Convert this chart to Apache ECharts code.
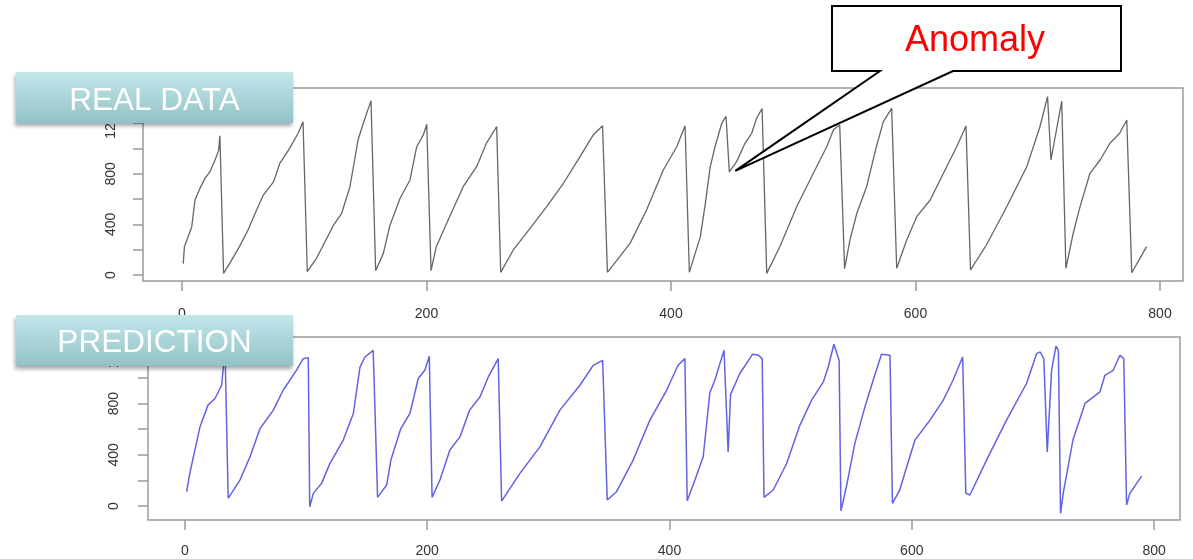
<!DOCTYPE html>
<html><head><meta charset="utf-8">
<script src="https://cdn.jsdelivr.net/npm/echarts@6/dist/echarts.min.js"></script>
<style>html,body{margin:0;padding:0;background:#fff}#c{width:1193px;height:559px}</style>
</head><body><div id="c"></div>
<script>
// ---- data ----
const realX = [1,2,8,10.6,14.7,18.8,22.9,27,30,31,34,39,47,54,61,66.5,75,80,88,95,99,102.5,110,117,124,130.6,137.4,144,148.3,154.6,158.4,164.7,170,178.3,186.5,192,197.4,200.2,203.7,208,216.5,230,241,249,257.4,260.7,271,284.7,298.3,312,325.6,336.4,344,348,366.5,380,393.7,404.7,411.5,415,424,428,432,436,441.5,445,447.7,453.7,460.5,466,470,474.5,478.3,489,502.8,516.4,527.4,533,538,542,546.4,552,560,568,573.7,580.5,584.6,592.8,601,612,625.5,633.7,641.3,645,658,674.6,691,701.8,708,710.8,719.6,723,729,734.6,742.7,751,759,767,772.8,776.9,789];
const realY = [90,224,382,593,685,764,817,909,985,1100,13,92,224,356,514,632,738,883,1001,1120,1212,26,132,263,395,488,698,1067,1199,1378,34,171,390,605,751,1014,1107,1191,34,224,409,698,856,1041,1172,21,198,369,540,725,935,1107,1180,21,250,514,830,1014,1180,21,303,560,850,1014,1199,1255,815,896,1041,1120,1239,1315,13,224,540,804,1014,1150,1185,50,277,488,698,1014,1212,1317,53,277,461,593,856,1014,1178,40,237,540,856,1172,1410,909,1375,53,330,540,804,909,1041,1120,1225,18,224];
const predX = [1.4,4,12.4,19,24.8,30.3,32,33,35.7,45.4,53.7,62,73,81,92,97.6,101.8,103,106,112.8,119.7,130.7,139,144.5,148.6,155.4,159,166.5,170,178,185.7,192.6,198,201.7,204,210.5,218.7,227,235,243.5,250.4,258.6,261.4,276.5,293,309.5,326,337,344.8,348.6,356.3,370,383.8,397.6,407,412.7,414.6,421,427.8,433.3,437.4,441.6,445,448.4,450.4,458,463.5,468.4,473,476.5,478,485.6,496.6,507.6,517.3,527,531,535.7,540,541.5,546,553,561.3,568.1,575,582,584,590,602.6,615,626,634,642,644.6,648,661.7,678.2,694.7,703,706,709,711.8,715.4,719,721,722.8,725,733,743,755.3,759.4,766.3,771.8,775,777.3,780,789.7];
const predY = [112,255,618,788,840,943,1115,1260,60,203,384,606,749,904,1060,1151,1159,-5,99,177,333,515,723,1086,1164,1216,68,164,359,600,723,996,1060,1170,68,203,437,540,749,852,1008,1151,39,255,462,749,943,1099,1138,47,112,359,671,904,1099,1151,42,203,384,885,982,1112,1216,423,870,1035,1112,1185,1180,1151,68,125,330,630,827,969,1086,1263,1138,-37,150,489,774,982,1185,1177,21,125,515,671,827,982,1164,99,86,359,671,957,1190,1203,1150,423,1060,1248,1216,-57,99,515,801,891,1021,1060,1177,1151,8,99,234];
const xTicks = [0,200,400,600,800];
const yTicks = [0,200,400,600,800,1000,1200,1400];
const yLabels = [0,400,800,1200];
const panelTitles = ['REAL DATA','PREDICTION'];
const calloutText = 'Anomaly';
const anomalyPoint = [447.7, 815];

const zip = (xs, ys) => xs.map((x, i) => [x, ys[i]]);
const FONT = '"Liberation Sans", Arial, sans-serif';
const tickStyle = {color:'#9a9a9a', width:1.5};

function xAxisCfg(gi, min, max, margin) {
  return {type:'value', gridIndex:gi, min, max, position:'bottom',
    axisLine:{show:false, onZero:false}, splitLine:{show:false},
    axisTick:{show:true, customValues:xTicks, length:10, lineStyle:tickStyle},
    axisLabel:{customValues:xTicks, margin, fontSize:14, color:'#333', fontFamily:FONT,
      formatter:v => String(v)}};
}
function yAxisCfg(gi, min, max, margin) {
  return {type:'value', gridIndex:gi, min, max, position:'left',
    axisLine:{show:false, onZero:false}, splitLine:{show:false},
    axisTick:{show:true, customValues:yTicks, length:10, lineStyle:tickStyle},
    axisLabel:{customValues:yLabels, rotate:90, margin, fontSize:14, color:'#333', fontFamily:FONT,
      formatter:v => String(v)}};
}

const chart = echarts.init(document.getElementById('c'), null, {renderer:'canvas'});
chart.setOption({
  animation:false,
  backgroundColor:'#fff',
  grid:[
    {left:143, top:88, width:1040, height:193, show:true, borderColor:'#9a9a9a', borderWidth:1.5},
    {left:148, top:337, width:1032, height:183, show:true, borderColor:'#9a9a9a', borderWidth:1.5}
  ],
  xAxis:[xAxisCfg(0, -31.9, 818.8, 26), xAxisCfg(1, -30.5, 821.4, 24)],
  yAxis:[yAxisCfg(0, -47.4, 1478, 25), yAxisCfg(1, -109, 1320, 27)],
  series:[
    {type:'line', xAxisIndex:0, yAxisIndex:0, data:zip(realX, realY), showSymbol:false,
     lineStyle:{color:'#666', width:1.3}},
    {type:'line', xAxisIndex:1, yAxisIndex:1, data:zip(predX, predY), showSymbol:false,
     lineStyle:{color:'#6262e2', width:1.5}}
  ]
});

const tip = chart.convertToPixel({gridIndex:0}, anomalyPoint);
const tx = tip[0] + 6, ty = tip[1] - 1;
const grad = () => new echarts.graphic.LinearGradient(0,0,0,1,[{offset:0,color:'#c2e7eb'},{offset:1,color:'#93c2c6'}]);
function labelBox(y, text, ty2) {
  return [
    {type:'rect', z:100, shape:{x:16, y, width:277, height:51},
     style:{fill:grad(), shadowBlur:4, shadowOffsetX:-1, shadowOffsetY:3, shadowColor:'rgba(0,0,0,0.35)'}},
    {type:'text', z:101, x:154.5, y:ty2,
     style:{text, fill:'#ffffff', font:'31.5px ' + FONT, align:'center', verticalAlign:'middle'}}
  ];
}
chart.setOption({graphic:[
  ...labelBox(72, panelTitles[0], 101.5),
  ...labelBox(315, panelTitles[1], 343.5),
  {type:'polygon', z:100, shape:{points:[[832,6],[1121,6],[1121,71],[953,71],[tx,ty],[880,71],[832,71]]},
   style:{fill:'#fff', stroke:'#000', lineWidth:2, lineJoin:'miter'}},
  {type:'text', z:101, x:975, y:41.5,
   style:{text:calloutText, fill:'#ff0000', font:'36px ' + FONT, align:'center', verticalAlign:'middle'}}
]});
</script></body></html>
